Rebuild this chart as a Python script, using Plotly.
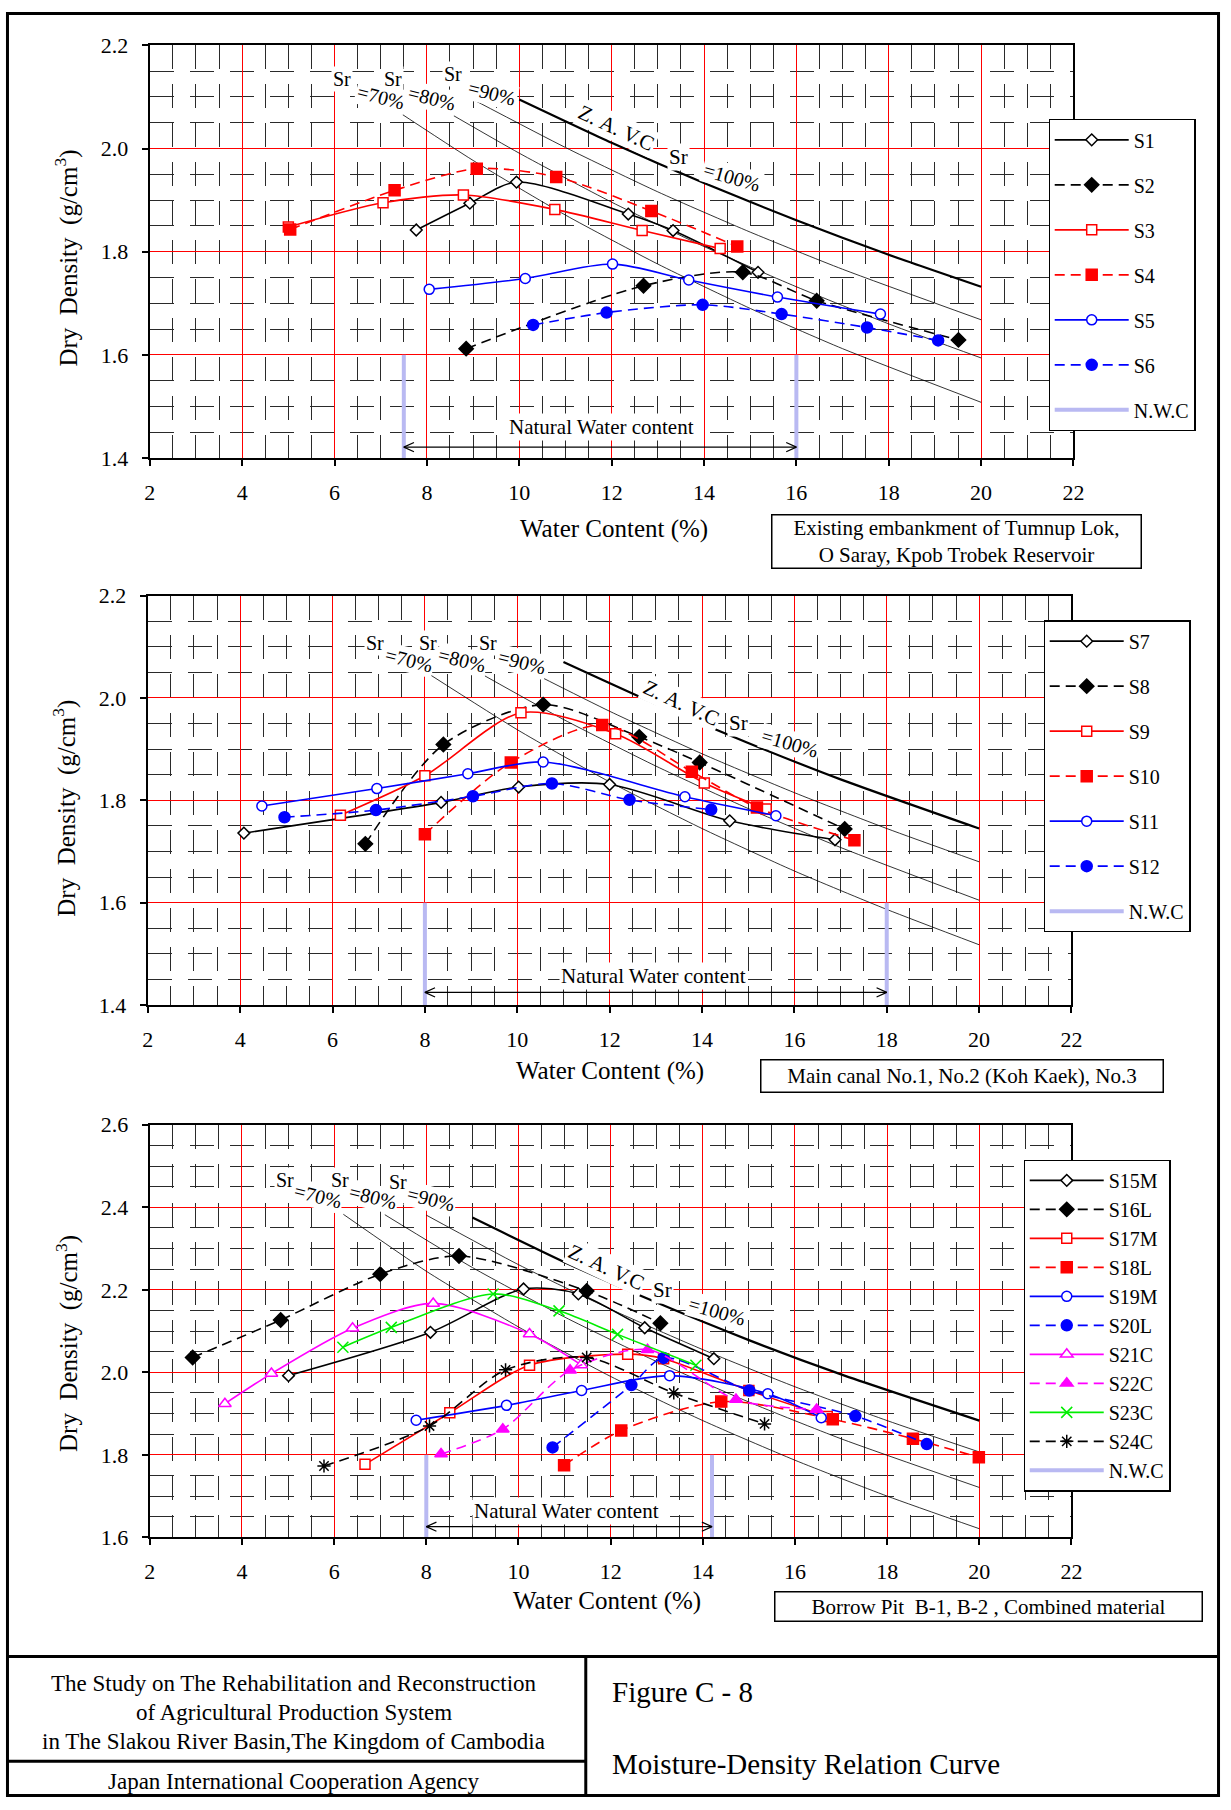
import plotly.graph_objects as go

FONT = "Liberation Serif"
W, H = 1231, 1810

# ---------------- Panel 1 : Existing embankment ----------------
p1_names = ["S1", "S2", "S3", "S4", "S5", "S6"]
p1_s1_x = [7.77, 8.93, 9.94, 12.36, 13.33, 15.17]
p1_s1_y = [1.842, 1.894, 1.935, 1.873, 1.841, 1.760]
p1_s2_x = [8.85, 12.69, 14.84, 16.44, 19.51]
p1_s2_y = [1.612, 1.734, 1.760, 1.705, 1.629]
p1_s3_x = [5.00, 7.05, 8.79, 10.77, 12.66, 14.35]
p1_s3_y = [1.848, 1.895, 1.910, 1.882, 1.841, 1.806]
p1_s4_x = [5.04, 7.30, 9.08, 10.80, 12.86, 14.72]
p1_s4_y = [1.843, 1.919, 1.961, 1.945, 1.879, 1.810]
p1_s5_x = [8.05, 10.13, 12.02, 13.67, 15.59, 17.82]
p1_s5_y = [1.727, 1.748, 1.776, 1.745, 1.712, 1.679]
p1_s6_x = [10.30, 11.89, 13.97, 15.68, 17.53, 19.07]
p1_s6_y = [1.658, 1.682, 1.697, 1.679, 1.653, 1.628]
p1_nwc = [7.5, 16.0]
p1_zav_x = [10, 12, 14, 16, 18, 20]
p1_zav_y = [2.095, 2.011, 1.933, 1.861, 1.794, 1.732]
p1_sr90_x = [9, 11, 13, 15, 17, 20]
p1_sr90_y = [2.095, 2.002, 1.916, 1.838, 1.766, 1.668]
p1_sr80_x = [8.4, 10, 12, 14, 16, 18, 20]
p1_sr80_y = [2.073, 1.991, 1.896, 1.810, 1.732, 1.660, 1.594]
p1_sr70_x = [7.3, 9, 11, 13, 15, 17, 20]
p1_sr70_y = [2.076, 1.977, 1.871, 1.776, 1.690, 1.612, 1.508]

# ---------------- Panel 2 : Main canal ----------------
p2_names = ["S7", "S8", "S9", "S10", "S11", "S12"]
p2_s7_x = [4.08, 8.35, 10.03, 12.00, 14.60, 16.88]
p2_s7_y = [1.736, 1.796, 1.826, 1.831, 1.760, 1.723]
p2_s8_x = [6.71, 8.40, 10.56, 12.64, 13.95, 17.09]
p2_s8_y = [1.715, 1.909, 1.987, 1.924, 1.874, 1.744]
p2_s9_x = [6.17, 8.00, 10.08, 12.13, 14.05, 15.39]
p2_s9_y = [1.771, 1.848, 1.971, 1.930, 1.834, 1.783]
p2_s10_x = [8.00, 9.86, 11.84, 13.78, 15.19, 17.30]
p2_s10_y = [1.734, 1.874, 1.947, 1.856, 1.786, 1.722]
p2_s11_x = [4.47, 6.96, 8.93, 10.56, 13.63, 15.60]
p2_s11_y = [1.789, 1.823, 1.852, 1.875, 1.807, 1.770]
p2_s12_x = [4.96, 6.94, 9.04, 10.75, 12.43, 14.20]
p2_s12_y = [1.767, 1.781, 1.808, 1.833, 1.801, 1.782]
p2_nwc = [8.0, 18.0]
p2_zav_x = [11, 13, 15, 17, 20]
p2_zav_y = [2.070, 1.988, 1.912, 1.841, 1.745]
p2_sr90_x = [10.4, 12, 14, 16, 18, 20]
p2_sr90_y = [2.046, 1.974, 1.891, 1.815, 1.745, 1.680]
p2_sr80_x = [9.3, 11, 13, 15, 17, 20]
p2_sr80_y = [2.043, 1.958, 1.867, 1.784, 1.708, 1.605]
p2_sr70_x = [8.1, 10, 12, 14, 16, 18, 20]
p2_sr70_y = [2.046, 1.938, 1.836, 1.745, 1.662, 1.587, 1.518]

# ---------------- Panel 3 : Borrow pit ----------------
p3_names = ["S15M", "S16L", "S17M", "S18L", "S19M", "S20L", "S21C", "S22C", "S23C", "S24C"]
p3_s15_x = [5.01, 8.09, 10.11, 11.30, 12.74, 14.24]
p3_s15_y = [1.992, 2.097, 2.202, 2.190, 2.108, 2.033]
p3_s16_x = [2.93, 4.84, 7.00, 8.71, 11.48, 13.08]
p3_s16_y = [2.036, 2.127, 2.238, 2.282, 2.197, 2.119]
p3_s17_x = [6.67, 8.51, 10.24, 12.37, 13.15, 15.00, 16.70]
p3_s17_y = [1.777, 1.902, 2.017, 2.044, 2.033, 1.956, 1.893]
p3_s18_x = [10.99, 12.23, 14.40, 16.82, 18.56, 19.99]
p3_s18_y = [1.775, 1.859, 1.929, 1.886, 1.839, 1.794]
p3_s19_x = [7.78, 9.74, 11.37, 13.28, 15.41, 16.57]
p3_s19_y = [1.884, 1.920, 1.956, 1.992, 1.948, 1.890]
p3_s20_x = [10.74, 12.45, 13.15, 15.01, 17.31, 18.86]
p3_s20_y = [1.818, 1.969, 2.035, 1.956, 1.894, 1.826]
p3_s21_x = [3.63, 4.64, 6.40, 8.15, 10.24, 11.36]
p3_s21_y = [1.924, 1.997, 2.107, 2.167, 2.093, 2.018]
p3_s22_x = [8.32, 9.66, 11.12, 12.80, 14.72, 16.47]
p3_s22_y = [1.802, 1.862, 2.005, 2.055, 1.934, 1.910]
p3_s23_x = [6.19, 7.24, 9.45, 10.88, 12.15, 13.85]
p3_s23_y = [2.061, 2.109, 2.190, 2.149, 2.092, 2.017]
p3_s24_x = [5.78, 8.07, 9.72, 11.48, 13.37, 15.34]
p3_s24_y = [1.773, 1.870, 2.006, 2.036, 1.950, 1.875]
p3_nwc = [8.0, 14.2]
p3_zav_x = [9, 11, 13, 15, 17, 20]
p3_zav_y = [2.375, 2.267, 2.169, 2.078, 1.995, 1.883]
p3_sr90_x = [8, 10, 12, 14, 16, 18, 20]
p3_sr90_y = [2.381, 2.261, 2.153, 2.055, 1.965, 1.883, 1.807]
p3_sr80_x = [7.1, 9, 11, 13, 15, 17, 20]
p3_sr80_y = [2.382, 2.254, 2.134, 2.026, 1.928, 1.839, 1.721]
p3_sr70_x = [6.2, 8, 10, 12, 14, 16, 18, 20]
p3_sr70_y = [2.383, 2.245, 2.110, 1.990, 1.883, 1.787, 1.700, 1.621]

x_ticks = [2, 4, 6, 8, 10, 12, 14, 16, 18, 20, 22]

# ---------------- styles ----------------
RED, BLUE, MAG, GRN = "#ff0000", "#0000ff", "#ff00ff", "#00ee00"
DASH = "10px,6px"
STY = {
    "k_od": dict(c="black", dash="solid", sym="diamond", fill="white", size=9),
    "k_fd": dict(c="black", dash=DASH, sym="diamond", fill="black", size=11),
    "r_os": dict(c=RED, dash="solid", sym="square", fill="white", size=10),
    "r_fs": dict(c=RED, dash=DASH, sym="square", fill=RED, size=11),
    "b_oc": dict(c=BLUE, dash="solid", sym="circle", fill="white", size=10),
    "b_fc": dict(c=BLUE, dash=DASH, sym="circle", fill=BLUE, size=11),
    "m_ot": dict(c=MAG, dash="solid", sym="triangle-up", fill="white", size=11),
    "m_ft": dict(c=MAG, dash=DASH, sym="triangle-up", fill=MAG, size=11),
    "g_x": dict(c=GRN, dash="solid", sym="x-thin-open", fill=GRN, size=11),
    "k_st": dict(c="black", dash=DASH, sym="asterisk-open", fill="black", size=11),
}

fig = go.Figure()
gid = [0]


def add_curve(xs, ys, xa, ya, width):
    fig.add_trace(go.Scatter(x=xs, y=ys, mode="lines", xaxis=xa, yaxis=ya,
                             line=dict(color="black", width=width, shape="spline", smoothing=0.6),
                             showlegend=False, hoverinfo="skip"))


def add_series(name, xs, ys, key, xa, ya, leg):
    s = STY[key]
    gid[0] += 1
    fig.add_trace(go.Scatter(
        x=xs, y=ys, name=name, mode="lines+markers", xaxis=xa, yaxis=ya,
        legend=leg, legendgroup="g%d" % gid[0],
        line=dict(color=s["c"], width=1.6, dash=s["dash"], shape="spline", smoothing=0.8),
        marker=dict(symbol=s["sym"], size=s["size"],
                    color=s["fill"] if "open" not in s["sym"] else s["c"],
                    line=dict(color=s["c"], width=1.5))))


def add_nwc(vals, ylo, yhi, xa, ya, leg):
    gid[0] += 1
    fig.add_trace(go.Scatter(
        x=[vals[0], vals[0], None, vals[1], vals[1]], y=[ylo, yhi, None, ylo, yhi],
        mode="lines", name="N.W.C", xaxis=xa, yaxis=ya, legend=leg, legendgroup="g%d" % gid[0],
        line=dict(color="#b9b9f2", width=4), hoverinfo="skip"))


def add_arrow(vals, y, dx, dy, xa, ya):
    a, b = vals
    fig.add_trace(go.Scatter(
        x=[a + dx, a, a + dx, None, a, b, None, b - dx, b, b - dx],
        y=[y + dy, y, y - dy, None, y, y, None, y + dy, y, y - dy],
        mode="lines", xaxis=xa, yaxis=ya, showlegend=False, hoverinfo="skip",
        line=dict(color="black", width=1.2)))


panels = [
    dict(xa="x", ya="y", leg="legend",
         curves=[(p1_sr70_x, p1_sr70_y, 0.8), (p1_sr80_x, p1_sr80_y, 0.8),
                 (p1_sr90_x, p1_sr90_y, 0.8), (p1_zav_x, p1_zav_y, 2.2)],
         series=[(p1_names[0], p1_s1_x, p1_s1_y, "k_od"), (p1_names[1], p1_s2_x, p1_s2_y, "k_fd"),
                 (p1_names[2], p1_s3_x, p1_s3_y, "r_os"), (p1_names[3], p1_s4_x, p1_s4_y, "r_fs"),
                 (p1_names[4], p1_s5_x, p1_s5_y, "b_oc"), (p1_names[5], p1_s6_x, p1_s6_y, "b_fc")],
         nwc=(p1_nwc, 1.4, 1.6), arr=(1.421, 0.009)),
    dict(xa="x2", ya="y2", leg="legend2",
         curves=[(p2_sr70_x, p2_sr70_y, 0.8), (p2_sr80_x, p2_sr80_y, 0.8),
                 (p2_sr90_x, p2_sr90_y, 0.8), (p2_zav_x, p2_zav_y, 2.2)],
         series=[(p2_names[0], p2_s7_x, p2_s7_y, "k_od"), (p2_names[1], p2_s8_x, p2_s8_y, "k_fd"),
                 (p2_names[2], p2_s9_x, p2_s9_y, "r_os"), (p2_names[3], p2_s10_x, p2_s10_y, "r_fs"),
                 (p2_names[4], p2_s11_x, p2_s11_y, "b_oc"), (p2_names[5], p2_s12_x, p2_s12_y, "b_fc")],
         nwc=(p2_nwc, 1.4, 1.6), arr=(1.425, 0.009)),
    dict(xa="x3", ya="y3", leg="legend3",
         curves=[(p3_sr70_x, p3_sr70_y, 0.8), (p3_sr80_x, p3_sr80_y, 0.8),
                 (p3_sr90_x, p3_sr90_y, 0.8), (p3_zav_x, p3_zav_y, 2.2)],
         series=[(p3_names[0], p3_s15_x, p3_s15_y, "k_od"), (p3_names[1], p3_s16_x, p3_s16_y, "k_fd"),
                 (p3_names[2], p3_s17_x, p3_s17_y, "r_os"), (p3_names[3], p3_s18_x, p3_s18_y, "r_fs"),
                 (p3_names[4], p3_s19_x, p3_s19_y, "b_oc"), (p3_names[5], p3_s20_x, p3_s20_y, "b_fc"),
                 (p3_names[6], p3_s21_x, p3_s21_y, "m_ot"), (p3_names[7], p3_s22_x, p3_s22_y, "m_ft"),
                 (p3_names[8], p3_s23_x, p3_s23_y, "g_x"), (p3_names[9], p3_s24_x, p3_s24_y, "k_st")],
         nwc=(p3_nwc, 1.6, 1.8), arr=(1.626, 0.011)),
]

for p in panels:
    for cx, cy, w in p["curves"]:
        add_curve(cx, cy, p["xa"], p["ya"], w)
    for name, xs, ys, key in p["series"]:
        add_series(name, xs, ys, key, p["xa"], p["ya"], p["leg"])
    vals, lo, hi = p["nwc"]
    add_nwc(vals, lo, hi, p["xa"], p["ya"], p["leg"])
    add_arrow(vals, p["arr"][0], 0.22, p["arr"][1], p["xa"], p["ya"])


# reference-pixel -> figure-pixel (compensates the small rescale seen in the photographed page)
def fx(r):
    return (r - 6.0) / 0.9876


def fy(r):
    return (r - 9.5) / 0.9895


def px(v):
    return fx(v) / W


def py(v):
    return 1 - fy(v) / H


def xaxis(dom, anchor):
    return dict(domain=[px(dom[0]), px(dom[1])], anchor=anchor, range=[2, 22], tickvals=x_ticks,
                showline=True, linecolor="black", linewidth=2.2, mirror=True,
                ticks="outside", ticklen=6, tickwidth=1.5, tickcolor="black", ticklabelstandoff=7,
                showgrid=True, gridcolor=RED, gridwidth=1.1, zeroline=False,
                tickfont=dict(family=FONT, size=22, color="black"),
                minor=dict(dtick=0.5, tick0=2, showgrid=True, gridcolor="#2a2a2a", gridwidth=1,
                           griddash="24px,15px", ticks=""))


def yaxis(dom, anchor, rng):
    return dict(domain=[py(dom[1]), py(dom[0])], anchor=anchor, range=rng, dtick=0.2, tick0=rng[0],
                tickformat=".1f",
                showline=True, linecolor="black", linewidth=2.2, mirror=True,
                ticks="outside", ticklen=6, tickwidth=1.5, tickcolor="black", ticklabelstandoff=9,
                showgrid=True, gridcolor=RED, gridwidth=1.1, zeroline=False,
                tickfont=dict(family=FONT, size=22, color="black"),
                minor=dict(dtick=0.05, tick0=rng[0], showgrid=True, gridcolor="#2a2a2a", gridwidth=1,
                           griddash="24px,16px", ticks=""))


def legend(xl, yt, gap):
    return dict(x=px(xl), y=py(yt), xanchor="left", yanchor="top", bgcolor="white",
                bordercolor="black", borderwidth=1.2, font=dict(family=FONT, size=20, color="black"),
                tracegroupgap=gap, itemwidth=74, traceorder="grouped")


anns = []


def ann(text, x, y, xref, yref, size=19, angle=0, bg=None, xanchor="center", yanchor="middle"):
    d = dict(text=text, x=x, y=y, xref=xref, yref=yref, showarrow=False, textangle=angle,
             font=dict(family=FONT, size=size, color="black"), xanchor=xanchor, yanchor=yanchor)
    if bg:
        d["bgcolor"] = bg
    anns.append(d)


# Sr labels
lab = [
    ("x", "y", [(6.17, 2.135, 7.0, 2.100), (7.26, 2.135, 8.1, 2.098), (8.56, 2.145, 9.4, 2.108)],
     (12.1, 2.04), (13.44, 1.984), (14.6, 1.945), (11.77, 1.461)),
    ("x2", "y2", [(6.92, 2.108, 7.65, 2.074), (8.06, 2.108, 8.8, 2.074), (9.36, 2.108, 10.1, 2.070)],
     (13.55, 1.99), (14.78, 1.951), (15.9, 1.912), (12.96, 1.456)),
    ("x3", "y3", [(4.93, 2.466, 5.65, 2.427), (6.13, 2.466, 6.85, 2.424), (7.38, 2.461, 8.1, 2.419)],
     (11.9, 2.255), (13.12, 2.2), (14.3, 2.148), (11.04, 1.665)),
]
for xr, yr, srs, zav, sr100, pct100, nwt in lab:
    for (sx, sy, ex, ey), pct in zip(srs, ["70", "80", "90"]):
        ann("Sr", sx, sy, xr, yr, size=20, bg="white")
        ann("=" + pct + "%", ex, ey, xr, yr, size=20, angle=14, bg="white")
    ann("Z.\u00a0A.\u00a0V.C", zav[0], zav[1], xr, yr, size=21, angle=25, bg="white")
    ann("Sr", sr100[0], sr100[1], xr, yr, size=21, bg="white")
    ann("=100%", pct100[0], pct100[1], xr, yr, size=20, angle=16, bg="white")
    ann("Natural Water content", nwt[0], nwt[1], xr, yr, size=21, bg="white")

# axis titles
for cx, cy in [(615, 528), (611, 1072), (608, 1604)]:
    ann("Water Content (%)", px(cx), py(cy), "paper", "paper", size=25)
for cx, cy in [(67, 256), (65, 808), (67, 1345)]:
    ann("Dry\u00a0\u00a0Density\u00a0\u00a0(g/cm<sup>3</sup>)", px(cx), py(cy), "paper", "paper",
        size=25, angle=-90)

# caption boxes
caps = [
    ("Existing embankment of Tumnup Lok,<br>O Saray, Kpob Trobek Reservoir", 958, 540.5, 368, 52),
    ("Main canal No.1, No.2 (Koh Kaek), No.3", 963, 1077, 401, 31),
    ("Borrow Pit\u00a0 B-1, B-2 , Combined material", 989.5, 1609.5, 426, 28),
]
for t, cx, cy, bw, bh in caps:
    anns.append(dict(text=t, x=px(cx), y=py(cy), xref="paper", yref="paper", showarrow=False,
                     font=dict(family=FONT, size=21, color="black"), bgcolor="white",
                     bordercolor="black", borderwidth=1.5, borderpad=0, width=bw, height=bh,
                     align="center", xanchor="center", yanchor="middle"))

# title block
for t, cy in [("The Study on The Rehabilitation and Reconstruction", 1687),
              ("of Agricultural Production System", 1716),
              ("in The Slakou River Basin,The Kingdom of Cambodia", 1745),
              ("Japan International Cooperation Agency", 1785)]:
    ann(t, px(294), py(cy), "paper", "paper", size=23)
ann("Figure C - 8", px(611), py(1695), "paper", "paper", size=29, xanchor="left")
ann("Moisture-Density Relation Curve", px(611), py(1767), "paper", "paper", size=29, xanchor="left")

FL, FR, FT, FB = 1.5 / W, 1 - 1.5 / W, 1 - 1.5 / H, 1.5 / H
shapes = [
    dict(type="rect", xref="paper", yref="paper", x0=FL, x1=FR, y0=FB, y1=FT,
         line=dict(color="black", width=3)),
    dict(type="line", xref="paper", yref="paper", x0=FL, x1=FR, y0=py(1659.5), y1=py(1659.5),
         line=dict(color="black", width=3)),
    dict(type="line", xref="paper", yref="paper", x0=px(586.6), x1=px(586.6), y0=py(1659.5), y1=FB,
         line=dict(color="black", width=3)),
    dict(type="line", xref="paper", yref="paper", x0=FL, x1=px(586.6), y0=py(1764.5), y1=py(1764.5),
         line=dict(color="black", width=3)),
]

fig.update_layout(
    width=W, height=H, margin=dict(l=0, r=0, t=0, b=0),
    paper_bgcolor="white", plot_bgcolor="white",
    font=dict(family=FONT, color="black"),
    xaxis=xaxis((150, 1075), "y"), yaxis=yaxis((43, 457), "x", [1.4, 2.2]),
    xaxis2=xaxis((148, 1073), "y2"), yaxis2=yaxis((595, 1006), "x2", [1.4, 2.2]),
    xaxis3=xaxis((150, 1073), "y3"), yaxis3=yaxis((1126, 1540), "x3", [1.6, 2.6]),
    legend=legend(1050, 117, 16), legend2=legend(1045, 620, 16), legend3=legend(1025, 1161, 0),
    annotations=anns, shapes=shapes, hovermode=False,
)

fig.write_html("out.html", config={"displayModeBar": False},
               post_script="document.body.style.margin='0';")
